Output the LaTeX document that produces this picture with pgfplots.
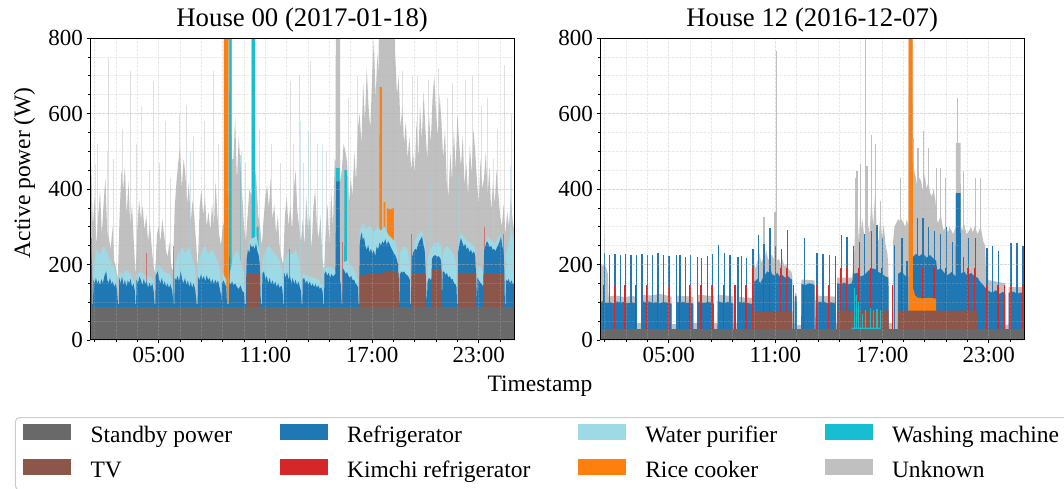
\documentclass[border=0pt]{standalone}
\usepackage{fontspec}
\setmainfont{Liberation Serif}
\usepackage{pgfplots}
\pgfplotsset{compat=1.18}
\definecolor{cStandby}{HTML}{696969}
\definecolor{cTV}{HTML}{8C564B}
\definecolor{cFridge}{HTML}{1F77B4}
\definecolor{cKimchi}{HTML}{D62728}
\definecolor{cPurifier}{HTML}{9EDAE5}
\definecolor{cRice}{HTML}{FF7F0E}
\definecolor{cWasher}{HTML}{17BECF}
\definecolor{cUnknown}{HTML}{C0C0C0}
\pgfplotsset{
  myax/.style={
    scale only axis, width=424.3pt, height=302pt,
    xmin=1.136, xmax=25.0, ymin=0, ymax=800,
    axis on top,
    xtick={5,11,17,23}, xticklabels={05:00,11:00,17:00,23:00},
    minor xtick={1.4,2.6,3.8,6.2,7.4,8.6,9.8,12.2,13.4,14.6,15.8,18.2,19.4,20.6,21.8,24.2},
    ytick={0,200,400,600,800}, minor ytick={50,100,...,750},
    grid=both,
    major grid style={dash pattern=on 2.5pt off 1.5pt, line width=0.6pt, draw=black!30, opacity=0.32},
    minor grid style={dash pattern=on 2.5pt off 1.5pt, line width=0.6pt, draw=black!30, opacity=0.25},
    tick pos=left, tick align=outside,
    major tick length=3.5pt, minor tick length=2pt,
    every tick/.style={black, line width=0.8pt},
    every minor tick/.style={black, line width=0.6pt},
    axis line style={line width=1pt},
    ticklabel style={font=\fontsize{23}{27}\selectfont},
    /pgf/number format/assume math mode=true,
    title style={font=\fontsize{26.8}{32}\selectfont, anchor=base, at={(0.5,1)}, yshift=6pt},
  },
  area/.style={fill=#1, draw=none, forget plot},
  spk/.style={ycomb, draw=#1, line width=1.2pt, forget plot},
  fspk/.style={ycomb, draw=#1, line width=0.8pt, opacity=0.5, forget plot},
}
\begin{document}
\begin{tikzpicture}
%================ House 00 =================
\begin{axis}[myax, at={(90pt,149pt)}, anchor=south west,
  title={House 00 (2017-01-18)},
  legend columns=4, legend cell align=left,
  legend image code/.code={\fill[#1, draw=none, sharp corners] (0pt,-3pt) rectangle (48pt,13pt);},
  legend style={at={(axis description cs:-0.1768,-0.255)}, anchor=north west,
    draw=black!20, line width=1pt, rounded corners=4pt, fill=white,
    font=\fontsize{23.5}{28}\selectfont,
    inner xsep=8pt, inner ysep=6pt,
    nodes={inner xsep=7.83pt, inner ysep=1pt, text height=17pt, text depth=6pt},
    row sep=9.5pt,
    /tikz/every odd column/.append style={column sep=11.3pt},
    /tikz/every even column/.append style={column sep=39.9pt}},
]
\addlegendimage{fill=cStandby}\addlegendentry{Standby power}
\addlegendimage{fill=cFridge}\addlegendentry{Refrigerator}
\addlegendimage{fill=cPurifier}\addlegendentry{Water purifier}
\addlegendimage{fill=cWasher}\addlegendentry{Washing machine}
\addlegendimage{fill=cTV}\addlegendentry{TV}
\addlegendimage{fill=cKimchi}\addlegendentry{Kimchi refrigerator}
\addlegendimage{fill=cRice}\addlegendentry{Rice cooker}
\addlegendimage{fill=cUnknown}\addlegendentry{Unknown}
% Unknown (total)
\addplot[area=cUnknown] coordinates {
(1.1,420)(1.2,470)(1.3,300)(1.4,380)(1.5,250)(1.6,330)(1.7,395)(1.8,280)(1.9,360)(2.0,430)
(2.1,290)(2.2,270)(2.3,240)(2.4,300)(2.5,210)(2.6,190)(2.7,160)(2.8,330)(2.9,450)
(3.0,400)(3.1,460)(3.2,330)(3.3,420)(3.4,300)(3.5,360)(3.6,260)(3.7,170)(3.8,300)(3.9,370)
(4.0,320)(4.1,355)(4.2,290)(4.3,330)(4.4,260)(4.5,310)(4.6,250)(4.7,200)(4.8,175)(4.9,280)
(5.0,300)(5.1,260)(5.2,320)(5.3,280)(5.4,240)(5.5,220)(5.6,260)(5.7,200)(5.8,180)(5.9,350)
(6.0,420)(6.1,470)(6.2,510)(6.3,400)(6.4,480)(6.5,440)(6.6,360)(6.7,420)(6.8,310)(6.9,370)
(7.0,330)(7.1,260)(7.2,190)(7.3,350)(7.4,400)(7.5,330)(7.6,380)(7.7,300)(7.8,340)(7.9,290)
(8.0,360)(8.1,300)(8.2,420)(8.3,330)(8.4,280)(8.5,250)(8.6,300)(8.66,310)(8.67,850)(9.1,850)(9.11,480)
(9.2,480)(9.3,590)(9.4,420)(9.5,540)(9.6,460)(9.7,380)(9.8,300)(9.9,260)(10.0,330)(10.1,400)(10.22,380)(10.23,850)(10.42,850)(10.43,450)
(10.5,420)(10.6,330)(10.7,300)(10.8,250)(10.9,320)(11.0,380)(11.1,410)(11.2,350)(11.3,430)(11.4,320)(11.5,360)(11.6,280)(11.7,330)(11.8,250)(11.9,220)
(12.0,200)(12.1,330)(12.2,380)(12.3,300)(12.4,360)(12.5,290)(12.6,400)(12.7,450)(12.8,340)(12.9,300)
(13.0,260)(13.1,320)(13.2,250)(13.3,380)(13.4,290)(13.5,330)(13.6,240)(13.7,350)(13.8,400)(13.9,300)
(14.0,270)(14.1,330)(14.2,220)(14.3,180)(14.4,300)(14.5,360)(14.6,250)(14.7,400)(14.8,300)(14.9,480)(14.95,470)(14.96,850)(15.2,850)(15.21,420)
(15.3,450)(15.4,520)(15.5,500)(15.6,470)(15.7,360)(15.8,430)(15.9,380)(16.0,500)(16.1,420)(16.2,560)
(16.3,600)(16.4,520)(16.5,680)(16.6,580)(16.7,720)(16.8,620)(16.9,560)(17.0,690)(17.1,800)(17.2,640)(17.3,760)(17.37,700)(17.38,850)(18.28,850)(18.3,760)
(18.4,650)(18.5,700)(18.6,560)(18.7,620)(18.8,520)(18.9,580)(19.0,480)(19.1,540)(19.2,450)
(19.3,500)(19.4,440)(19.5,580)(19.6,480)(19.7,620)(19.8,530)(19.9,660)(20.0,560)(20.1,480)(20.2,600)
(20.3,520)(20.4,640)(20.5,700)(20.6,600)(20.7,540)(20.8,650)(20.9,580)(21.0,480)(21.1,560)(21.2,420)
(21.3,380)(21.4,500)(21.5,420)(21.6,560)(21.7,450)(21.8,600)(21.9,520)(22.0,460)(22.1,540)(22.2,410)
(22.3,470)(22.4,380)(22.5,520)(22.6,440)(22.7,560)(22.8,500)(22.9,420)(23.0,360)(23.1,480)(23.2,400)
(23.3,430)(23.4,500)(23.5,380)(23.6,460)(23.7,340)(23.8,420)(23.9,360)(24.0,450)(24.1,390)(24.2,330)
(24.3,300)(24.4,360)(24.5,280)(24.6,340)(24.7,300)(24.8,380)(24.9,320)(25.0,290)(25.1,300)
} \closedcycle;
\addplot[fspk=cUnknown] coordinates {(1.55,520)(2.17,747)(2.45,480)(2.95,560)(3.39,712)(3.75,520)(4.45,450)(4.70,685)(5.05,470)(5.36,580)(5.65,430)(6.15,600)(6.57,623)(6.95,540)(7.55,580)(8.07,712)(8.35,520)(9.85,470)(10.65,560)(11.35,520)(11.85,470)(12.39,685)(12.55,520)(12.91,703)(13.15,470)(13.53,740)(13.95,520)(14.45,500)(15.65,640)(16.15,700)(18.69,712)(19.25,700)(19.55,700)(20.19,690)(20.75,720)(21.25,640)(21.5,680)(22.25,690)(22.65,700)(23.15,620)(23.47,641)(24.05,560)(24.46,729)(24.85,600)};
% Washing machine
\addplot[area=cWasher] coordinates {(8.96,0)(8.97,850)(9.10,850)(9.11,0)(9.60,0)(9.61,490)(9.63,490)(9.64,0)(10.22,0)(10.23,850)(10.42,850)(10.43,0)(10.5,0)(10.51,300)(10.62,300)(10.63,0)(14.96,0)(14.97,455)(15.18,455)(15.19,0)(15.43,0)(15.44,450)(15.58,450)(15.59,0)} \closedcycle;
% Rice cooker
\addplot[area=cRice] coordinates {(8.66,0)(8.67,850)(8.92,850)(8.93,0)(17.41,0)(17.42,670)(17.55,670)(17.56,0)(17.64,0)(17.65,365)(17.75,365)(17.76,0)(17.83,0)(17.84,350)(18.0,345)(18.22,350)(18.23,0)} \closedcycle;
% Water purifier
\addplot[area=cPurifier] coordinates {
(1.13,320)(1.2,250)(1.25,215)(1.27,95)(1.31,95)(1.33,200)(1.5,240)(1.7,225)(1.9,250)(2.1,230)(2.3,210)(2.5,190)(2.66,165)(2.71,95)(2.76,95)(2.78,180)(3.0,175)(3.2,185)(3.4,175)(3.66,150)(3.69,95)(3.73,95)(3.75,175)(4.0,180)(4.3,170)(4.6,165)(4.72,150)(4.77,95)(4.81,95)(4.83,190)(5.0,200)(5.3,180)(5.6,175)(5.76,160)(5.84,95)(5.88,95)(5.9,200)(6.1,225)(6.3,245)(6.5,230)(6.7,245)(6.9,215)(7.05,190)(7.14,95)(7.19,95)(7.21,200)(7.4,235)(7.6,250)(7.8,225)(8.0,240)(8.2,220)(8.4,200)(8.5,150)(8.53,95)(8.56,180)(8.8,160)(8.84,95)(8.95,95)(8.97,170)(9.2,220)(9.4,240)(9.6,210)(9.8,175)(9.84,95)(9.9,95)(9.93,200)(10.1,265)(10.3,270)(10.5,275)(10.69,230)(10.72,120)(10.77,95)(10.81,95)(10.83,210)(11.0,240)(11.2,250)(11.4,235)(11.6,225)(11.8,210)(11.97,180)(12.0,95)(12.04,95)(12.06,210)(12.3,235)(12.5,225)(12.7,240)(12.9,210)(13.0,160)(13.04,95)(13.08,95)(13.1,175)(13.4,170)(13.7,165)(14.0,160)(14.22,140)(14.26,95)(14.3,95)(14.32,190)(14.6,195)(14.9,185)(15.19,170)(15.29,95)(15.33,95)(15.35,205)(15.6,210)(15.9,195)(16.21,160)(16.24,95)(16.28,95)(16.3,290)(16.5,310)(16.7,295)(16.9,305)(17.1,285)(17.3,300)(17.5,290)(17.7,300)(17.9,280)(18.1,270)(18.3,260)(18.46,230)(18.5,110)(18.53,95)(18.56,230)(18.8,250)(19.0,240)(19.12,200)(19.15,95)(19.19,95)(19.21,200)(19.4,260)(19.6,280)(19.81,290)(20.0,250)(20.04,160)(20.08,95)(20.12,210)(20.3,240)(20.5,255)(20.7,260)(20.9,250)(20.93,95)(20.97,230)(21.2,250)(21.4,240)(21.6,225)(21.75,200)(21.78,95)(21.82,95)(21.84,250)(22.0,285)(22.2,270)(22.4,260)(22.6,255)(22.8,245)(22.86,180)(22.9,95)(22.93,200)(23.1,190)(23.25,175)(23.3,250)(23.5,275)(23.7,265)(23.9,255)(24.1,270)(24.25,285)(24.4,250)(24.47,95)(24.51,95)(24.53,230)(24.7,260)(24.85,290)(25.05,250)
} \closedcycle;
\addplot[fspk=cPurifier] coordinates {(1.42,465)(2.13,500)(4.04,620)(6.8,500)(9.67,500)(12.95,580)(13.43,553)(14.19,520)(20.28,420)(21.87,440)(23.84,480)(24.78,460)};
\addplot[fspk=cKimchi] coordinates {(1.2,270)(4.3,230)(5.8,250)(9.0,220)(12.35,240)(15.35,260)(19.2,280)(23.3,300)(24.4,280)};
% Refrigerator
\addplot[area=cFridge] coordinates {
(1.13,245)(1.2,230)(1.25,200)(1.27,95)(1.31,95)(1.33,160)(1.4,150)(1.47,165)(1.55,148)(1.62,158)(1.7,145)(1.78,162)(1.86,150)(1.95,170)(2.05,182)(2.1,160)(2.18,150)(2.26,165)(2.34,148)(2.42,155)(2.5,140)(2.58,150)(2.66,132)(2.71,95)(2.76,95)
(2.78,165)(2.86,150)(2.94,168)(3.02,145)(3.1,160)(3.18,140)(3.26,158)(3.34,150)(3.42,162)(3.5,140)(3.58,150)(3.66,130)(3.69,95)(3.73,95)
(3.75,160)(3.83,150)(3.92,168)(4.0,158)(4.08,145)(4.16,162)(4.24,148)(4.32,155)(4.4,138)(4.48,152)(4.56,140)(4.64,150)(4.72,128)(4.77,95)(4.81,95)
(4.83,170)(4.95,182)(5.02,160)(5.1,150)(5.18,165)(5.26,145)(5.34,155)(5.42,140)(5.5,150)(5.58,138)(5.66,148)(5.76,130)(5.84,95)(5.88,95)
(5.9,165)(5.98,158)(6.06,170)(6.14,155)(6.24,182)(6.32,160)(6.4,150)(6.48,165)(6.56,145)(6.64,158)(6.72,140)(6.8,155)(6.88,138)(6.96,150)(7.05,135)(7.14,95)(7.19,95)
(7.21,168)(7.3,158)(7.38,175)(7.46,160)(7.54,170)(7.62,155)(7.7,172)(7.78,158)(7.86,165)(7.94,150)(8.02,162)(8.1,148)(8.18,160)(8.26,150)(8.34,158)(8.42,140)(8.5,120)(8.53,95)
(8.56,150)(8.64,158)(8.72,150)(8.8,140)(8.84,95)(8.95,95)(8.97,150)(9.05,148)(9.13,155)(9.21,145)(9.3,150)(9.4,140)(9.5,135)(9.6,145)(9.7,130)(9.8,125)(9.84,95)(9.9,95)
(9.93,185)(9.95,215)(10.02,240)(10.1,230)(10.16,255)(10.24,245)(10.32,250)(10.4,240)(10.47,257)(10.55,235)(10.62,225)(10.69,200)(10.72,120)(10.77,95)(10.81,95)
(10.83,175)(10.92,182)(11.0,160)(11.08,170)(11.16,150)(11.24,165)(11.32,148)(11.4,158)(11.48,145)(11.56,155)(11.64,140)(11.72,150)(11.8,138)(11.9,145)(11.97,130)(12.0,95)(12.04,95)
(12.06,178)(12.14,165)(12.22,180)(12.3,160)(12.38,170)(12.46,150)(12.54,165)(12.62,148)(12.7,160)(12.78,145)(12.86,155)(12.94,140)(13.0,130)(13.04,95)(13.08,95)
(13.1,160)(13.18,165)(13.26,150)(13.34,158)(13.42,145)(13.5,155)(13.58,142)(13.66,150)(13.74,140)(13.82,148)(13.9,138)(13.98,145)(14.06,135)(14.14,140)(14.22,128)(14.26,95)(14.3,95)
(14.32,175)(14.4,182)(14.48,170)(14.56,178)(14.64,165)(14.72,175)(14.8,168)(14.88,172)(14.94,175)(14.96,300)(14.98,420)(15.17,420)(15.19,160)(15.25,145)(15.29,95)(15.33,95)
(15.35,190)(15.43,185)(15.51,175)(15.59,180)(15.67,170)(15.75,165)(15.83,170)(15.91,158)(15.99,160)(16.07,150)(16.15,145)(16.21,140)(16.24,95)(16.28,95)
(16.3,250)(16.36,275)(16.42,285)(16.48,265)(16.55,272)(16.62,250)(16.7,238)(16.78,252)(16.86,232)(16.94,242)(17.02,228)(17.1,238)(17.18,222)(17.26,248)(17.34,240)(17.42,258)(17.5,250)(17.58,262)(17.66,255)(17.74,268)(17.82,252)(17.9,262)(17.98,255)(18.06,245)(18.14,238)(18.22,230)(18.3,225)(18.38,215)(18.46,200)(18.5,110)(18.53,95)
(18.56,172)(18.64,182)(18.72,178)(18.8,182)(18.88,175)(18.96,172)(19.04,168)(19.12,160)(19.15,95)(19.19,95)
(19.21,160)(19.26,222)(19.34,235)(19.42,242)(19.5,238)(19.58,252)(19.66,262)(19.74,268)(19.81,275)(19.88,255)(19.96,238)(20.0,200)(20.04,140)(20.08,95)
(20.12,155)(20.2,165)(20.28,160)(20.34,160)(20.37,215)(20.45,222)(20.55,225)(20.65,220)(20.75,222)(20.85,215)(20.9,200)(20.93,95)
(20.97,180)(21.05,182)(21.13,172)(21.21,178)(21.29,165)(21.37,170)(21.45,160)(21.53,162)(21.61,150)(21.69,148)(21.75,140)(21.78,95)(21.82,95)
(21.84,232)(21.92,255)(22.0,270)(22.08,258)(22.16,248)(22.24,255)(22.32,240)(22.4,246)(22.48,232)(22.56,240)(22.64,228)(22.72,235)(22.8,225)(22.86,160)(22.9,95)
(22.93,165)(23.01,158)(23.09,152)(23.17,148)(23.25,140)(23.27,178)(23.3,235)(23.38,250)(23.46,262)(23.54,255)(23.62,245)(23.7,250)(23.78,238)(23.86,242)(23.94,235)(24.02,245)(24.1,252)(24.18,262)(24.25,275)(24.32,250)(24.4,232)(24.44,180)(24.47,95)(24.51,95)
(24.53,160)(24.6,155)(24.68,162)(24.76,150)(24.84,158)(24.92,148)(25.0,150)(25.05,145)
} \closedcycle;
% TV
\addplot[area=cTV] coordinates {(1.1,165)(1.25,165)(1.26,0)(9.94,0)(9.95,178)(10.3,176)(10.70,173)(10.71,0)(16.29,0)(16.30,172)(17.0,175)(17.5,175)(17.8,182)(18.0,185)(18.2,180)(18.5,178)(18.51,0)(19.24,0)(19.25,177)(20.0,177)(20.01,0)(20.36,0)(20.37,188)(20.9,188)(20.91,0)(21.83,0)(21.84,178)(22.85,178)(22.86,0)(23.27,0)(23.28,177)(24.42,177)(24.43,0)} \closedcycle;
% Standby
\addplot[area=cStandby] coordinates {(1.1,87)(25.1,87)} \closedcycle;
\end{axis}
%================ House 12 =================
\begin{axis}[myax, at={(600pt,149pt)}, anchor=south west,
  title={House 12 (2016-12-07)}]
% Unknown (total)
\addplot[area=cUnknown] coordinates {
(1.13,190)(1.2,200)(1.3,195)(1.36,205)(1.38,323)(1.40,200)(1.5,190)(1.58,175)(1.62,115)(2.0,118)(2.5,114)(3.0,117)(3.19,112)(3.2,45)(3.48,45)(3.49,120)(4.0,118)(4.5,122)(5.16,115)(5.17,42)(5.41,42)(5.42,118)(6.0,116)(6.38,114)(6.39,45)(6.61,45)(6.62,120)(7.1,118)(7.54,116)(7.55,45)(7.74,45)(7.75,120)(8.2,118)(8.63,116)(8.64,45)(8.86,45)(8.87,115)(9.3,112)(9.71,112)
(9.72,170)(9.8,200)(9.9,190)(10.0,210)(10.1,230)(10.2,205)(10.3,215)(10.4,220)(10.5,235)(10.6,210)(10.7,225)(10.8,225)(10.9,215)(11.0,250)(11.1,210)(11.2,215)(11.3,200)(11.4,215)(11.5,195)(11.6,200)(11.7,190)(11.8,185)(11.9,180)(11.95,170)(11.96,45)(12.08,45)(12.09,125)(12.2,122)(12.21,40)(12.45,40)(12.46,160)(13.2,158)(13.21,40)(13.25,40)(13.26,118)(14.36,115)(14.37,45)(14.46,45)(14.47,165)(15.3,165)
(15.4,200)(15.45,250)(15.5,330)(15.55,280)(15.6,340)(15.65,300)(15.7,260)(15.78,360)(15.85,290)(15.9,320)(16.0,270)(16.1,300)(16.2,310)(16.3,280)(16.4,380)(16.5,300)(16.62,400)(16.7,280)(16.8,260)(16.9,330)(17.0,270)(17.09,305)(17.2,250)(17.3,230)(17.36,190)(17.37,45)(17.6,45)(17.62,260)(17.7,300)(17.8,310)(17.9,320)(18.0,315)(18.1,320)(18.2,310)(18.3,300)(18.4,320)(18.48,300)(18.49,850)(18.72,850)
(18.73,420)(18.8,450)(18.9,430)(19.0,400)(19.1,430)(19.2,420)(19.3,395)(19.4,440)(19.5,400)(19.6,420)(19.7,390)(19.8,380)(19.9,400)(20.0,370)(20.08,320)(20.15,310)(20.3,330)(20.45,290)(20.6,300)(20.7,285)(20.8,300)(20.9,290)(21.0,280)(21.14,300)(21.15,522)(21.42,522)(21.43,300)(21.5,290)(21.6,310)(21.75,280)(21.9,290)(22.0,300)(22.1,285)(22.2,300)(22.3,290)(22.38,280)(22.45,290)(22.55,300)(22.7,260)(22.8,250)(22.85,160)(23.4,155)(23.93,150)(23.94,40)(24.11,40)(24.12,140)(25.05,140)
} \closedcycle;
\addplot[spk=cUnknown] coordinates {(10.36,327)(10.98,340)(11.07,765)(15.5,430)(15.59,447)(15.78,465)(16.06,820)(16.15,460)(16.4,544)(16.62,520)(16.9,367)(18.03,430)(18.78,535)(19.02,509)(19.34,553)(19.62,509)(20.04,456)(20.28,456)(20.56,430)(21.26,641)(21.59,447)(22.25,430)(22.53,430)};
% Refrigerator
\addplot[area=cFridge] coordinates {
(1.13,100)(1.3,103)(1.5,98)(1.7,100)(1.9,97)(2.1,102)(2.3,99)(2.5,101)(2.7,97)(2.9,100)(3.1,98)(3.19,96)(3.2,0)(3.48,0)(3.49,103)(3.7,100)(3.9,102)(4.1,98)(4.3,100)(4.5,97)(4.7,101)(4.9,99)(5.1,97)(5.16,96)(5.17,0)(5.41,0)(5.42,102)(5.6,99)(5.8,101)(6.0,98)(6.2,100)(6.38,96)(6.39,0)(6.61,0)(6.62,102)(6.8,100)(7.0,98)(7.2,101)(7.4,99)(7.54,96)(7.55,0)(7.74,0)(7.75,103)(7.95,100)(8.15,98)(8.35,101)(8.55,98)(8.63,96)(8.64,0)(8.86,0)(8.87,102)(9.1,99)(9.3,100)(9.5,97)(9.71,96)
(9.72,160)(9.85,155)(10.0,162)(10.15,150)(10.3,165)(10.45,175)(10.55,182)(10.65,178)(10.72,190)(10.8,175)(10.95,170)(11.1,178)(11.25,168)(11.4,172)(11.55,165)(11.7,170)(11.85,162)(11.94,160)(11.95,0)(12.08,0)(12.09,117)(12.2,115)(12.21,0)(12.45,0)(12.46,148)(12.7,146)(12.9,150)(13.1,148)(13.2,145)(13.21,0)(13.25,0)(13.26,105)(13.5,100)(13.7,103)(13.9,97)(14.1,100)(14.3,98)(14.36,96)(14.37,0)(14.46,0)
(14.47,150)(14.7,148)(14.9,152)(15.1,147)(15.3,150)(15.4,175)(15.6,178)(15.8,168)(16.0,172)(16.2,182)(16.4,190)(16.6,188)(16.8,180)(17.0,175)(17.2,168)(17.36,165)(17.37,0)(17.89,0)(17.9,175)(18.1,182)(18.3,170)(18.48,168)(18.49,0)(18.72,0)(18.73,220)(18.9,228)(19.1,222)(19.3,230)(19.5,218)(19.7,225)(19.9,215)(20.04,210)(20.1,185)(20.3,190)(20.5,178)(20.7,172)(20.9,180)(21.1,170)(21.14,170)(21.15,389)(21.42,389)(21.43,175)(21.6,182)(21.8,170)(22.0,178)(22.2,168)(22.38,165)(22.5,155)(22.7,145)(22.81,138)(23.0,130)(23.2,125)(23.4,132)(23.6,122)(23.8,128)(23.93,120)(23.94,0)(24.11,0)(24.12,125)(24.4,128)(24.6,122)(24.8,126)(25.05,120)
} \closedcycle;
\addplot[spk=cFridge] coordinates {(1.38,230)(1.66,225)(1.98,228)(2.28,226)(2.58,228)(2.88,225)(3.18,225)(3.50,228)(3.80,226)(4.08,225)(4.40,230)(4.70,226)(5.02,222)(5.45,224)(5.64,224)(5.94,220)(6.24,226)(6.64,220)(6.86,218)(7.17,222)(7.47,228)(7.79,252)(8.13,230)(8.45,224)(8.9,220)(9.09,222)(9.39,216)(9.74,240)(10.04,279)(10.36,253)(10.70,297)(11.02,250)(11.35,240)(11.67,292)(12.12,117)(12.63,270)(13.34,230)(13.68,228)(14.03,226)(14.37,222)(14.71,279)(15.03,272)(15.38,250)(15.71,260)(16.02,280)(16.40,288)(16.72,305)(17.03,270)(17.71,252)(18.12,270)(18.40,208)(19.0,323)(19.30,323)(19.62,300)(19.96,288)(20.28,280)(20.62,300)(20.94,260)(21.59,220)(21.87,270)(22.25,270)(22.9,245)(23.22,250)(23.56,235)(24.25,257)(24.59,257)(24.93,250)};
\addplot[spk=cKimchi] coordinates {(1.34,146)(1.94,146)(2.54,146)(3.14,146)(3.76,146)(4.36,146)(4.98,146)(5.6,146)(6.2,146)(6.82,146)(7.43,146)(8.09,146)(8.73,146)(9.35,146)(9.7,190)(10.32,190)(10.66,190)(11.3,190)(11.63,190)(12.0,146)(12.59,146)(13.3,146)(13.98,146)(14.67,190)(15.0,190)(15.67,190)(16.36,190)(16.98,190)(17.6,146)(18.08,190)(19.26,190)(19.92,190)(20.58,190)(21.83,190)(22.21,190)(22.86,146)(23.52,146)(23.9,146)(24.21,146)(24.89,146)};
% Rice cooker
\addplot[area=cRice] coordinates {(18.49,0)(18.5,850)(18.72,850)(18.73,128)(18.78,135)(18.85,118)(19.0,112)(19.3,110)(19.6,112)(20.0,110)(20.04,108)(20.05,0)} \closedcycle;
% TV
\addplot[area=cTV] coordinates {(9.71,0)(9.72,76)(11.95,76)(11.96,0)(14.46,0)(14.47,78)(17.37,78)(17.38,0)(17.89,0)(17.9,78)(22.38,78)(22.39,0)} \closedcycle;
% Washing machine
\addplot[area=cWasher] coordinates {(15.27,0)(15.28,33)(16.9,33)(16.91,0)} \closedcycle;
\addplot[spk=cWasher] coordinates {(15.46,138)(15.55,120)(15.68,100)(15.9,70)(16.06,80)(16.34,85)(16.53,80)(16.72,82)(16.9,80)};
% Standby
\addplot[area=cStandby] coordinates {(1.1,28)(25.1,28)} \closedcycle;
\end{axis}
\node[rotate=90, anchor=base, font=\fontsize{23.5}{28}\selectfont] at (30pt,316.3pt) {Active power (W)};
\node[anchor=base, font=\fontsize{23.5}{28}\selectfont] at (540pt,97pt) {Timestamp};
\pgfresetboundingbox
\useasboundingbox (0pt,0pt) rectangle (1064pt,489pt);
\end{tikzpicture}
\end{document}
